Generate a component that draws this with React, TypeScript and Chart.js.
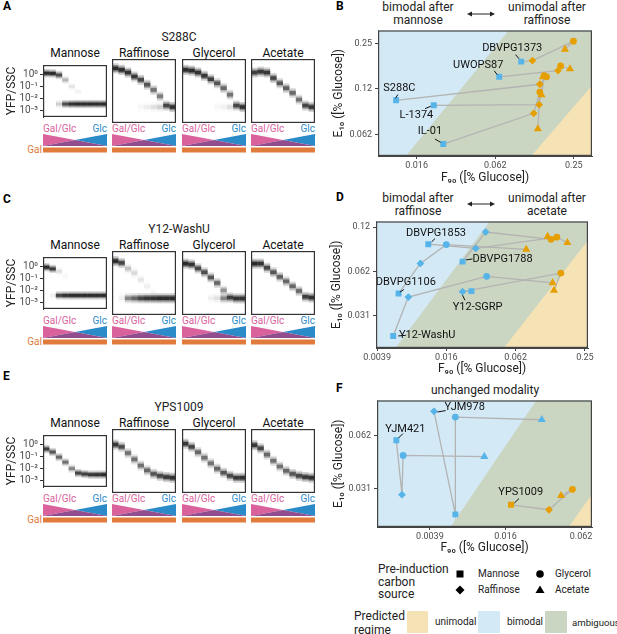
import React, { useEffect, useRef } from "react";
import { Chart, registerables } from "chart.js";

Chart.register(...registerables);

const FONT = "Roboto, 'DejaVu Sans', 'Liberation Sans', sans-serif";
Chart.defaults.font.family = FONT;
Chart.defaults.color = "#222";

// ---------------- data ----------------
const carbonSources = ["Mannose", "Raffinose", "Glycerol", "Acetate"];
const gradientSteps = ["1", "2", "3", "4", "5", "6", "7", "8", "9", "10"];
const yfpTicks = [0.001, 0.01, 0.1, 1];
const yfpTickLabels = ["10⁻³", "10⁻²", "10⁻¹", "10⁰"];

// Heatmaps: log10(YFP/SSC) of the main mode per gradient well, its weight, and weight of the uninduced (low) mode
const s288cLow = -2.45;
const s288cMannosePeak = [0.1, 0.08, -0.05, -0.45, -1.0, -1.4, -1.8, -2.1, -2.4, -2.45];
const s288cMannoseW = [1, 1, 0.75, 0.25, 0.08, 0.04, 0, 0, 0, 0];
const s288cMannoseLowW = [0, 0, 0.15, 0.75, 0.95, 1, 1, 1, 1, 1];
const s288cRaffinosePeak = [0.15, 0.05, -0.13, -0.4, -0.62, -0.95, -1.3, -1.73, -2.35, -2.45];
const s288cRaffinoseW = [1, 1, 0.95, 0.9, 0.8, 0.7, 0.55, 0.5, 0.8, 0.95];
const s288cRaffinoseLowW = [0, 0, 0, 0, 0.03, 0.06, 0.1, 0.15, 0, 0];
const s288cGlycerolPeak = [0.05, 0, -0.13, -0.35, -0.58, -0.85, -1.18, -1.62, -2.35, -2.45];
const s288cGlycerolW = [1, 1, 0.95, 0.9, 0.85, 0.7, 0.6, 0.55, 0.8, 0.95];
const s288cGlycerolLowW = [0, 0, 0, 0, 0, 0.03, 0.05, 0.1, 0, 0];
const s288cAcetatePeak = [-0.13, -0.07, -0.13, -0.5, -0.85, -1.18, -1.5, -1.95, -2.35, -2.45];
const s288cAcetateW = [0.85, 0.9, 0.9, 0.8, 0.7, 0.65, 0.6, 0.55, 0.8, 0.9];
const s288cAcetateLowW = [0, 0, 0, 0, 0, 0, 0, 0, 0, 0];

const washuLow = -2.4;
const washuMannosePeak = [-0.07, -0.2, -0.4, -0.8, -1.2, -1.6, -2.0, -2.2, -2.4, -2.4];
const washuMannoseW = [1, 0.85, 0.1, 0.03, 0, 0, 0, 0, 0, 0];
const washuMannoseLowW = [0, 0.05, 0.8, 0.95, 1, 1, 1, 1, 1, 1];
const washuRaffinosePeak = [0.1, -0.02, -0.4, -0.7, -1.15, -1.6, -2.0, -2.2, -2.4, -2.4];
const washuRaffinoseW = [1, 0.8, 0.2, 0.12, 0.08, 0.05, 0.03, 0, 0, 0];
const washuRaffinoseLowW = [0, 0.05, 0.45, 0.6, 0.8, 0.9, 0.95, 1, 1, 1];
const washuGlycerolPeak = [-0.07, -0.13, -0.39, -0.65, -1.0, -1.37, -1.87, -2.35, -2.41, -2.41];
const washuGlycerolW = [1, 0.95, 0.8, 0.75, 0.7, 0.6, 0.4, 0.85, 0.95, 0.95];
const washuGlycerolLowW = [0, 0, 0, 0, 0.05, 0.1, 0.45, 0, 0, 0];
const washuAcetatePeak = [-0.07, -0.07, -0.35, -0.65, -0.96, -1.26, -1.59, -1.91, -2.3, -2.35];
const washuAcetateW = [1, 0.95, 0.8, 0.7, 0.65, 0.6, 0.6, 0.6, 0.85, 0.95];
const washuAcetateLowW = [0, 0, 0, 0, 0, 0, 0, 0, 0, 0];

const ypsLow = -2.5;
const ypsMannosePeak = [-0.38, -0.63, -1.05, -1.47, -2.0, -2.37, -2.45, -2.5, -2.5, -2.5];
const ypsMannoseW = [0.85, 0.7, 0.6, 0.55, 0.45, 0.8, 0.85, 0.9, 0.95, 1];
const ypsRaffinosePeak = [-0.27, -0.42, -0.84, -1.26, -1.68, -2.0, -2.24, -2.37, -2.45, -2.5];
const ypsRaffinoseW = [0.9, 0.75, 0.55, 0.55, 0.55, 0.6, 0.7, 0.8, 0.9, 0.95];
const ypsGlycerolPeak = [-0.21, -0.42, -0.78, -1.15, -1.53, -1.89, -2.16, -2.37, -2.5, -2.5];
const ypsGlycerolW = [0.9, 0.8, 0.6, 0.55, 0.55, 0.6, 0.7, 0.8, 0.9, 0.95];
const ypsAcetatePeak = [-0.31, -0.52, -0.94, -1.36, -1.74, -2.03, -2.24, -2.37, -2.45, -2.5];
const ypsAcetateW = [0.9, 0.8, 0.6, 0.55, 0.55, 0.6, 0.7, 0.8, 0.9, 0.95];
const ypsLowW = [0, 0, 0, 0, 0, 0, 0, 0, 0, 0];

// Scatter panels: [Mannose, Raffinose, Glycerol, Acetate] per strain
const bStrains = ["DBVPG1373", "UWOPS87", "S288C", "L-1374", "IL-01"];
const bF90 = [
  [0.0989, 0.1206, 0.2486, 0.214],
  [0.0671, 0.1893, 0.1985, 0.234],
  [0.01087, 0.1373, 0.1548, 0.145],
  [0.02113, 0.1358, 0.1482, 0.1416],
  [0.02497, 0.1233, 0.1373, 0.1327],
];
const bE10 = [
  [0.189, 0.192, 0.258, 0.228],
  [0.15, 0.165, 0.177, 0.169],
  [0.105, 0.134, 0.15, 0.15],
  [0.0973, 0.0983, 0.153, 0.114],
  [0.054, 0.0861, 0.119, 0.068],
];
const bBimodal = [[1, 0, 0, 0], [1, 0, 0, 0], [1, 0, 0, 0], [1, 0, 0, 0], [1, 0, 0, 0]];

const dStrains = ["DBVPG1853", "DBVPG1788", "DBVPG1106", "Y12-SGRP", "Y12-WashU"];
const dF90 = [
  [0.01088, 0.0281, 0.1426, 0.176],
  [0.0216, 0.0343, 0.127, 0.1185],
  [0.006, 0.00929, 0.0156, 0.0773],
  [0.0258, 0.0216, 0.1545, 0.1346],
  [0.00539, 0.0073, 0.035, 0.131],
];
const dE10 = [
  [0.0958, 0.0896, 0.107, 0.098],
  [0.0729, 0.116, 0.1034, 0.108],
  [0.0442, 0.0709, 0.0952, 0.0882],
  [0.0459, 0.0455, 0.0609, 0.0464],
  [0.0227, 0.0418, 0.0579, 0.0522],
];
const dBimodal = [[1, 1, 0, 0], [1, 1, 0, 0], [1, 1, 1, 0], [1, 1, 0, 0], [1, 1, 1, 0]];

const fStrains = ["YJM978", "YJM421", "YPS1009"];
const fF90 = [
  [0.00623, 0.00421, 0.00623, 0.0304],
  [0.00211, 0.00234, 0.00239, 0.0106],
  [0.0173, 0.0347, 0.0533, 0.0433],
];
const fE10 = [
  [0.0224, 0.0862, 0.0799, 0.0772],
  [0.0591, 0.029, 0.0484, 0.0477],
  [0.0254, 0.0238, 0.0311, 0.0286],
];
const fBimodal = [[1, 1, 1, 1], [1, 1, 1, 1], [0, 0, 0, 0]];

// predicted-regime boundaries (F90, E10) pairs
const ambiguousBoundary = [{ x: 0.000488, y: 0.00143 }, { x: 1, y: 4.37 }];
const unimodalBoundary = [{ x: 0.000488, y: 0.000186 }, { x: 1, y: 0.381 }];

const dTicksX = [0.00390625, 0.015625, 0.0625, 0.25];
const dTickLabelsX = ["0.0039", "0.016", "0.062", "0.25"];

// ---------------- styles ----------------
const BLUE_PT = "#56B4E9";
const ORANGE_PT = "#E69F00";
const BIMODAL_BG = "#d3e9f6";
const AMBIG_BG = "#cbd6c2";
const UNI_BG = "#f5e3b5";
const PINK = "#d9629d";
const GLC_BLUE = "#2b8bc9";
const OVERLAP = "#924d8e";
const GAL_ORANGE = "#e07b3c";
const TICK_GREY = "#4d4d4d";
const SHAPES = ["rect", "rectRot", "circle", "triangle"];
const RADII = [4.2, 3.9, 3.4, 4.7];

const borderPlugin = (color, width) => ({
  id: "panelBorder",
  afterDraw(chart) {
    const { left, top, right, bottom } = chart.chartArea;
    const ctx = chart.ctx;
    ctx.save();
    ctx.strokeStyle = color;
    ctx.lineWidth = width;
    ctx.strokeRect(left + width / 2, top + width / 2, right - left - width, bottom - top - width);
    ctx.restore();
  },
});

function tickLookup(values, labels) {
  return (v) => {
    const i = values.findIndex((t) => Math.abs(v - t) / t < 1e-6);
    return i >= 0 ? labels[i] : "";
  };
}

function heatmapConfig(peak, peakW, lowW, lowLog, withAxis) {
  const layers = [
    [0.34, 0.2],
    [0.22, 0.38],
    [0.12, 0.72],
  ];
  const datasets = [];
  layers.forEach(([hw, a]) => {
    datasets.push({
      data: peak.map((p) => [Math.pow(10, p - hw), Math.pow(10, p + hw)]),
      backgroundColor: peakW.map((w) => `rgba(10,10,10,${(a * w).toFixed(3)})`),
    });
    datasets.push({
      data: peak.map(() => [Math.pow(10, lowLog - hw), Math.pow(10, lowLog + hw)]),
      backgroundColor: lowW.map((w) => `rgba(10,10,10,${(a * w).toFixed(3)})`),
    });
  });
  datasets.forEach((d) =>
    Object.assign(d, {
      barPercentage: 1,
      categoryPercentage: 1,
      grouped: false,
      borderWidth: 0,
      inflateAmount: 0,
    })
  );
  return {
    type: "bar",
    data: { labels: gradientSteps, datasets },
    options: {
      animation: false,
      responsive: false,
      events: [],
      layout: { padding: withAxis ? { top: 2, bottom: 2, right: 1, left: 0 } : 1 },
      plugins: { legend: { display: false }, tooltip: { enabled: false } },
      scales: {
        x: { display: false, offset: true, stacked: true, grid: { display: false } },
        y: {
          type: "logarithmic",
          stacked: false,
          display: withAxis,
          min: Math.pow(10, -3.47),
          max: Math.pow(10, 0.78),
          afterFit: (s) => {
            s.width = withAxis ? 43 : 0;
          },
          afterBuildTicks: (s) => {
            s.ticks = yfpTicks.map((v) => ({ value: v }));
          },
          ticks: {
            callback: tickLookup(yfpTicks, yfpTickLabels),
            color: TICK_GREY,
            font: { size: 10 },
            padding: 2,
            autoSkip: false,
          },
          grid: { display: true, drawOnChartArea: false, drawTicks: true, tickLength: 3, color: "#333" },
          border: { display: true, color: "#333" },
          title: {
            display: true,
            text: "YFP/SSC",
            color: "#222",
            font: { size: 12 },
            padding: { top: 5, bottom: 0 },
          },
        },
      },
    },
    plugins: [borderPlugin("#333", 1.2)],
  };
}

function scatterConfig(spec) {
  const datasets = [];
  datasets.push({
    type: "line",
    data: ambiguousBoundary,
    borderColor: "rgba(0,0,0,0)",
    borderWidth: 1,
    pointRadius: 0,
    fill: "start",
    backgroundColor: AMBIG_BG,
    order: 30,
  });
  datasets.push({
    type: "line",
    data: unimodalBoundary,
    borderColor: "rgba(0,0,0,0)",
    borderWidth: 1,
    pointRadius: 0,
    fill: "start",
    backgroundColor: UNI_BG,
    order: 20,
  });
  spec.F90.forEach((row, i) => {
    const order = spec.pathOrder[i];
    datasets.push({
      type: "line",
      data: order.map((k) => ({ x: spec.F90[i][k], y: spec.E10[i][k] })),
      borderColor: "#b3b3b3",
      borderWidth: 1.3,
      pointRadius: 0,
      fill: false,
      tension: 0,
      order: 10,
    });
  });
  const pts = [];
  const styles = [];
  const radii = [];
  const colors = [];
  spec.F90.forEach((row, i) => {
    row.forEach((f, k) => {
      pts.push({ x: f, y: spec.E10[i][k] });
      styles.push(SHAPES[k]);
      radii.push(RADII[k]);
      colors.push(spec.bimodal[i][k] ? BLUE_PT : ORANGE_PT);
    });
  });
  datasets.push({
    type: "scatter",
    data: pts,
    pointStyle: styles,
    pointRadius: radii,
    backgroundColor: colors,
    borderColor: colors,
    borderWidth: 0,
    order: 0,
  });

  const labelPlugin = {
    id: "strainLabels",
    afterDatasetsDraw(chart) {
      const ctx = chart.ctx;
      const xs = chart.scales.x;
      const ys = chart.scales.y;
      ctx.save();
      ctx.font = `11px ${FONT}`;
      ctx.fillStyle = "#111";
      ctx.strokeStyle = "#111";
      ctx.lineWidth = 1;
      ctx.textAlign = "center";
      ctx.textBaseline = "middle";
      spec.strains.forEach((name, i) => {
        const k = spec.labelAt[i];
        const px = xs.getPixelForValue(spec.F90[i][k]);
        const py = ys.getPixelForValue(spec.E10[i][k]);
        const o = spec.labelOffsets[i];
        ctx.fillText(name, px + o[0], py + o[1]);
        ctx.beginPath();
        ctx.moveTo(px + o[2], py + o[3]);
        ctx.lineTo(px + o[4], py + o[5]);
        ctx.stroke();
      });
      ctx.restore();
    },
  };
  const bgPlugin = {
    id: "bimodalBg",
    beforeDatasetsDraw(chart) {
      const { left, top, right, bottom } = chart.chartArea;
      chart.ctx.save();
      chart.ctx.fillStyle = BIMODAL_BG;
      chart.ctx.fillRect(left, top, right - left, bottom - top);
      chart.ctx.restore();
    },
  };

  return {
    type: "scatter",
    data: { datasets },
    options: {
      animation: false,
      responsive: false,
      events: [],
      layout: { padding: { top: 6, right: 8, left: 0, bottom: 0 } },
      plugins: { legend: { display: false }, tooltip: { enabled: false } },
      scales: {
        x: {
          type: "logarithmic",
          min: spec.xMin,
          max: spec.xMax,
          afterFit: (s) => {
            s.height = spec.xAxisHeight;
          },
          afterBuildTicks: (s) => {
            s.ticks = spec.xTicks.map((v) => ({ value: v }));
          },
          ticks: {
            callback: tickLookup(spec.xTicks, spec.xTickLabels),
            color: TICK_GREY,
            font: { size: 9 },
            padding: 1,
            autoSkip: false,
            maxRotation: 0,
          },
          grid: { display: true, drawOnChartArea: false, drawTicks: true, tickLength: 3, color: "#444" },
          border: { display: true, color: "#444" },
          title: {
            display: true,
            text: "F₉₀ ([% Glucose])",
            color: "#222",
            font: { size: 12 },
            padding: { top: 0, bottom: 1 },
          },
        },
        y: {
          type: "logarithmic",
          min: spec.yMin,
          max: spec.yMax,
          afterFit: (s) => {
            s.width = spec.yAxisWidth;
          },
          afterBuildTicks: (s) => {
            s.ticks = spec.yTicks.map((v) => ({ value: v }));
          },
          ticks: {
            callback: tickLookup(spec.yTicks, spec.yTickLabels),
            color: TICK_GREY,
            font: { size: 9 },
            padding: 3,
            autoSkip: false,
          },
          grid: { display: true, drawOnChartArea: false, drawTicks: true, tickLength: 3, color: "#444" },
          border: { display: true, color: "#444" },
          title: {
            display: true,
            text: "E₁₀ ([% Glucose])",
            color: "#222",
            font: { size: 12 },
            padding: { top: spec.titlePad, bottom: 0 },
          },
        },
      },
    },
    plugins: [bgPlugin, labelPlugin, borderPlugin("#444", 1.2)],
  };
}

// ---------------- components ----------------
function ChartBox({ left, top, width, height, make }) {
  const ref = useRef(null);
  useEffect(() => {
    const chart = new Chart(ref.current, make());
    return () => chart.destroy();
  }, []);
  return (
    <canvas
      ref={ref}
      width={width}
      height={height}
      style={{ position: "absolute", left, top, width, height }}
    />
  );
}

function Txt({ x, y, text, size = 12, align = "center", color = "#222", bold = false, lh = 0 }) {
  const tx = align === "center" ? "-50%" : align === "right" ? "-100%" : "0";
  return (
    <div
      style={{
        position: "absolute",
        left: x,
        top: y,
        transform: `translate(${tx}, -50%)`,
        fontSize: size,
        lineHeight: `${lh || Math.round(size * 1.15)}px`,
        color,
        fontWeight: bold ? 700 : 400,
        whiteSpace: "pre",
        fontFamily: FONT,
        textAlign: align,
      }}
    >
      {text}
    </div>
  );
}

const PANEL_LEFTS = [43, 112, 182, 251];
const PANEL_W = 64;
const PANEL_H = 64;

const heatRows = [
  {
    letter: "A", letterY: 6, strain: "S288C", top: 59, low: s288cLow,
    peaks: [s288cMannosePeak, s288cRaffinosePeak, s288cGlycerolPeak, s288cAcetatePeak],
    weights: [s288cMannoseW, s288cRaffinoseW, s288cGlycerolW, s288cAcetateW],
    lowWeights: [s288cMannoseLowW, s288cRaffinoseLowW, s288cGlycerolLowW, s288cAcetateLowW],
  },
  {
    letter: "C", letterY: 199, strain: "Y12-WashU", top: 251, low: washuLow,
    peaks: [washuMannosePeak, washuRaffinosePeak, washuGlycerolPeak, washuAcetatePeak],
    weights: [washuMannoseW, washuRaffinoseW, washuGlycerolW, washuAcetateW],
    lowWeights: [washuMannoseLowW, washuRaffinoseLowW, washuGlycerolLowW, washuAcetateLowW],
  },
  {
    letter: "E", letterY: 376, strain: "YPS1009", top: 429, low: ypsLow,
    peaks: [ypsMannosePeak, ypsRaffinosePeak, ypsGlycerolPeak, ypsAcetatePeak],
    weights: [ypsMannoseW, ypsRaffinoseW, ypsGlycerolW, ypsAcetateW],
    lowWeights: [ypsLowW, ypsLowW, ypsLowW, ypsLowW],
  },
];

const scatterSpecs = [
  {
    key: "B", left: 328, top: 22, width: 272, height: 164, yAxisWidth: 50, xAxisHeight: 30, titlePad: 4,
    strains: bStrains, F90: bF90, E10: bE10, bimodal: bBimodal,
    pathOrder: [[0, 1, 2, 3], [0, 1, 2, 3], [0, 1, 2, 3], [0, 1, 2, 3], [0, 1, 2, 3]],
    labelAt: [0, 0, 0, 0, 0],
    labelOffsets: [
      [-9, -13.3, -5.7, -7, -2.2, -3],
      [-21, -11.7, -5, -6, -2, -2.2],
      [3.3, -12, 1.7, -5.7, -0.5, -2],
      [-17.3, 10, -8.7, 3.3, -3, 1],
      [-13.3, -12.3, -8.3, -5, -2.6, -1.7],
    ],
    xMin: 0.0079, xMax: 0.345, yMin: 0.045, yMax: 0.304,
    xTicks: [0.015625, 0.0625, 0.25], xTickLabels: ["0.016", "0.062", "0.25"],
    yTicks: [0.0625, 0.125, 0.25], yTickLabels: ["0.062", "0.12", "0.25"],
  },
  {
    key: "D", left: 328, top: 213, width: 268, height: 164, yAxisWidth: 48, xAxisHeight: 29, titlePad: 2,
    strains: dStrains, F90: dF90, E10: dE10, bimodal: dBimodal,
    pathOrder: [[0, 1, 2, 3], [0, 1, 2, 3], [0, 1, 2, 3], [0, 1, 2, 3], [0, 1, 2, 3]],
    labelAt: [0, 0, 0, 1, 0],
    labelOffsets: [
      [7.7, -11.3, 6.7, -5.6, 3.3, -2.3],
      [40, -2.3, 10, -2.7, 3.4, -1.7],
      [7.3, -11.3, 5.3, -4, 1.3, -1.3],
      [15, 16, 2.4, 8.6, 0, 3.6],
      [34, -0.7, 12.7, -0.7, 5, 0],
    ],
    xMin: 0.00382, xMax: 0.266, yMin: 0.0188, yMax: 0.137,
    xTicks: dTicksX, xTickLabels: dTickLabelsX,
    yTicks: [0.03125, 0.0625, 0.125], yTickLabels: ["0.031", "0.062", "0.12"],
  },
  {
    key: "F", left: 328, top: 392, width: 272, height: 164, yAxisWidth: 49, xAxisHeight: 29, titlePad: 4,
    strains: fStrains, F90: fF90, E10: fE10, bimodal: fBimodal,
    pathOrder: [[1, 0, 2, 3], [0, 1, 2, 3], [0, 1, 2, 3]],
    labelAt: [1, 0, 0],
    labelOffsets: [
      [30.7, -4, 11.7, -0.7, 3.4, 0.7],
      [9, -11, 6.6, -6.6, 2.3, -2.3],
      [9.7, -12.3, 8, -6.3, 3.3, -1.7],
    ],
    xMin: 0.00148, xMax: 0.0764, yMin: 0.019, yMax: 0.0994,
    xTicks: [0.00390625, 0.015625, 0.0625], xTickLabels: ["0.0039", "0.016", "0.062"],
    yTicks: [0.03125, 0.0625], yTickLabels: ["0.031", "0.062"],
  },
];

function Arrow({ x1, x2, y }) {
  return (
    <g stroke="#222" strokeWidth={1} fill="#222">
      <line x1={x1 + 3} y1={y} x2={x2 - 3} y2={y} />
      <polygon points={`${x1},${y} ${x1 + 5},${y - 2.5} ${x1 + 5},${y + 2.5}`} stroke="none" />
      <polygon points={`${x2},${y} ${x2 - 5},${y - 2.5} ${x2 - 5},${y + 2.5}`} stroke="none" />
    </g>
  );
}

export default function App() {
  return (
    <div
      style={{
        position: "absolute",
        left: 0,
        top: 0,
        width: 617,
        height: 634,
        background: "#fff",
        overflow: "hidden",
        fontFamily: FONT,
      }}
    >
      <svg width={617} height={634} style={{ position: "absolute", left: 0, top: 0 }}>
        {heatRows.map((row) => {
          const pb = row.top + PANEL_H;
          const y0 = pb + 11;
          const y1 = y0 + 12;
          const ym = (y0 + y1) / 2;
          return PANEL_LEFTS.map((x0, j) => {
            const x1 = x0 + PANEL_W;
            const xm = (x0 + x1) / 2;
            return (
              <g key={row.letter + j}>
                <polygon points={`${x0},${y0} ${xm},${ym} ${x0},${y1}`} fill={PINK} />
                <polygon points={`${x1},${y0} ${xm},${ym} ${x1},${y1}`} fill={GLC_BLUE} />
                <polygon points={`${x0},${y1} ${xm},${ym} ${x1},${y1}`} fill={OVERLAP} />
                <rect x={x0} y={y1 + 1.5} width={PANEL_W} height={5} fill={GAL_ORANGE} />
              </g>
            );
          });
        })}
        <Arrow x1={467} x2={495} y={14} />
        <Arrow x1={467} x2={495} y={204} />
        <rect x={456.5} y={570.5} width={7} height={7} fill="#000" />
        <polygon points="460,585.5 464.5,590 460,594.5 455.5,590" fill="#000" />
        <circle cx={540} cy={574} r={3.8} fill="#000" />
        <polygon points="540,585.5 544.5,593 535.5,593" fill="#000" />
      </svg>

      {heatRows.map((row) => (
        <React.Fragment key={row.letter}>
          <Txt x={3} y={row.letterY} text={row.letter} size={12} bold align="left" color="#000" />
          <Txt x={179} y={row.top - 22} text={row.strain} size={12} />
          {carbonSources.map((c, j) => (
            <Txt key={c} x={PANEL_LEFTS[j] + PANEL_W / 2} y={row.top - 6} text={c} size={12} color="#111" />
          ))}
          {PANEL_LEFTS.map((x0, j) => (
            <React.Fragment key={"g" + j}>
              <Txt x={x0} y={row.top + PANEL_H + 5.5} text="Gal/Glc" size={10} align="left" color={PINK} />
              <Txt x={x0 + PANEL_W} y={row.top + PANEL_H + 5.5} text="Glc" size={10} align="right" color={GLC_BLUE} />
            </React.Fragment>
          ))}
          <Txt x={42} y={row.top + PANEL_H + 27} text="Gal" size={10} align="right" color={GAL_ORANGE} />
          {PANEL_LEFTS.map((x0, j) =>
            j === 0 ? (
              <ChartBox
                key={"h" + j}
                left={0}
                top={row.top - 2}
                width={x0 + PANEL_W + 1}
                height={PANEL_H + 4}
                make={() => heatmapConfig(row.peaks[j], row.weights[j], row.lowWeights[j], row.low, true)}
              />
            ) : (
              <ChartBox
                key={"h" + j}
                left={x0 - 1}
                top={row.top - 1}
                width={PANEL_W + 2}
                height={PANEL_H + 2}
                make={() => heatmapConfig(row.peaks[j], row.weights[j], row.lowWeights[j], row.low, false)}
              />
            )
          )}
        </React.Fragment>
      ))}

      <Txt x={336} y={6} text="B" size={12} bold align="left" color="#000" />
      <Txt x={418} y={13.5} text={"bimodal after\nmannose"} size={12} lh={13} />
      <Txt x={547} y={13.5} text={"unimodal after\nraffinose"} size={12} lh={13} />
      <Txt x={336} y={197} text="D" size={12} bold align="left" color="#000" />
      <Txt x={418} y={204.5} text={"bimodal after\nraffinose"} size={12} lh={13} />
      <Txt x={547} y={204.5} text={"unimodal after\nacetate"} size={12} lh={13} />
      <Txt x={336} y={388} text="F" size={12} bold align="left" color="#000" />
      <Txt x={485} y={390} text="unchanged modality" size={12} />

      {scatterSpecs.map((s) => (
        <ChartBox key={s.key} left={s.left} top={s.top} width={s.width} height={s.height} make={() => scatterConfig(s)} />
      ))}

      <Txt x={378} y={582} text={"Pre-induction\ncarbon\nsource"} size={12} align="left" lh={12.5} />
      <Txt x={478} y={574} text="Mannose" size={10} align="left" />
      <Txt x={478} y={590} text="Raffinose" size={10} align="left" />
      <Txt x={555} y={574} text="Glycerol" size={10} align="left" />
      <Txt x={555} y={590} text="Acetate" size={10} align="left" />
      <Txt x={354} y={623} text={"Predicted\nregime"} size={12} align="left" lh={14} />
      <div style={{ position: "absolute", left: 407, top: 611, width: 21, height: 22, background: UNI_BG }} />
      <Txt x={435} y={622} text="unimodal" size={10} align="left" />
      <div style={{ position: "absolute", left: 478, top: 611, width: 22, height: 22, background: BIMODAL_BG }} />
      <Txt x={507} y={622} text="bimodal" size={10} align="left" />
      <div style={{ position: "absolute", left: 545, top: 611, width: 22, height: 22, background: AMBIG_BG }} />
      <Txt x={572} y={622} text="ambiguous" size={9.6} align="left" />
    </div>
  );
}
